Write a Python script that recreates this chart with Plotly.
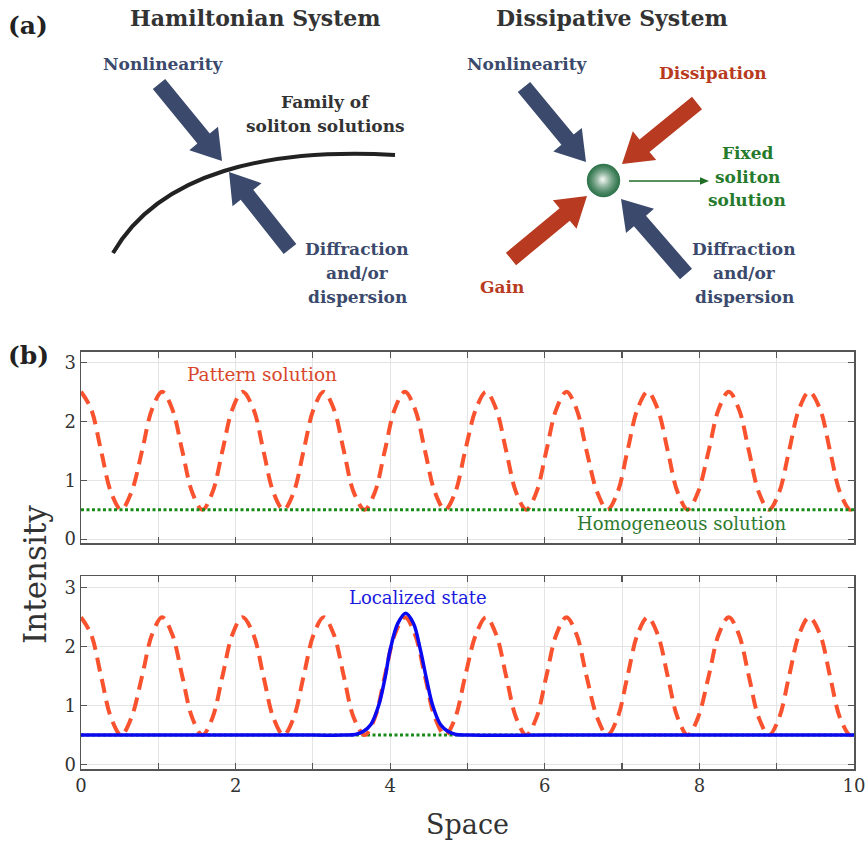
import math
import plotly.graph_objects as go

W, H = 868, 841

# ---------------- panel (b) data ----------------
pattern_x = [0.00, 0.13, 0.26, 0.39, 0.52, 0.65, 0.79, 0.92,
             1.05, 1.18, 1.31, 1.44, 1.57, 1.70, 1.83, 1.96,
             2.09, 2.23, 2.36, 2.49, 2.62, 2.75, 2.88, 3.01,
             3.14, 3.27, 3.40, 3.53, 3.67, 3.80, 3.93, 4.06,
             4.19, 4.32, 4.45, 4.58, 4.71, 4.84, 4.97, 5.11,
             5.24, 5.37, 5.50, 5.63, 5.76, 5.89, 6.02, 6.15,
             6.28, 6.41, 6.54, 6.68, 6.81, 6.94, 7.07, 7.20,
             7.33, 7.46, 7.59, 7.72, 7.85, 7.98, 8.12, 8.25,
             8.38, 8.51, 8.64, 8.77, 8.90, 9.03, 9.16, 9.29,
             9.42, 9.56, 9.69, 9.82, 9.95, 10.0]
pattern_y = [2.5, 2.21, 1.5, 0.79, 0.5, 0.79, 1.5, 2.21,
             2.5, 2.21, 1.5, 0.79, 0.5, 0.79, 1.5, 2.21,
             2.5, 2.21, 1.5, 0.79, 0.5, 0.79, 1.5, 2.21,
             2.5, 2.21, 1.5, 0.79, 0.5, 0.79, 1.5, 2.21,
             2.5, 2.21, 1.5, 0.79, 0.5, 0.79, 1.5, 2.21,
             2.5, 2.21, 1.5, 0.79, 0.5, 0.79, 1.5, 2.21,
             2.5, 2.21, 1.5, 0.79, 0.5, 0.79, 1.5, 2.21,
             2.5, 2.21, 1.5, 0.79, 0.5, 0.79, 1.5, 2.21,
             2.5, 2.21, 1.5, 0.79, 0.5, 0.79, 1.5, 2.21,
             2.5, 2.21, 1.5, 0.79, 0.5, 0.55]

homog_x = [0, 10]
homog_y = [0.5, 0.5]

local_x = [0, 1, 2, 3, 3.4, 3.55, 3.65, 3.75, 3.85, 3.93, 4.0, 4.1, 4.2,
           4.3, 4.39, 4.47, 4.55, 4.65, 4.75, 4.85, 5.0, 6, 7, 8, 9, 10]
local_y = [0.5, 0.5, 0.5, 0.5, 0.5, 0.51, 0.56, 0.68, 1.0, 1.45, 1.95, 2.4, 2.57,
           2.4, 1.95, 1.45, 1.0, 0.68, 0.56, 0.51, 0.5, 0.5, 0.5, 0.5, 0.5, 0.5]

x_tick_vals = [0, 1, 2, 3, 4, 5, 6, 7, 8, 9, 10]
x_tick_text = ["0", "", "2", "", "4", "", "6", "", "8", "", "10"]
y_tick_vals = [0, 1, 2, 3]

# ---------------- panel (a) schematic (pixel coordinates) ----------------
ham_arrows = [((159, 84), (222, 161)), ((290, 249), (229, 172))]
diss_blue_arrows = [((524, 87), (586, 162)), ((686, 274), (621, 199))]
diss_red_arrows = [((697, 103), (622, 164)), ((511, 259), (587, 196))]

BLUE = "#3b4a6c"
RED = "#b83a20"
GREEN_T = "#267a2c"
DARK = "#333333"
FONT = "DejaVu Serif"


def arrow_path(tail, tip, sw=16, hw=37, hl=29):
    dx, dy = tip[0] - tail[0], tip[1] - tail[1]
    L = math.hypot(dx, dy)
    ux, uy = dx / L, dy / L
    px, py = -uy, ux
    bx, by = tip[0] - ux * hl, tip[1] - uy * hl
    pts = [
        (tail[0] + px * sw / 2, tail[1] + py * sw / 2),
        (bx + px * sw / 2, by + py * sw / 2),
        (bx + px * hw / 2, by + py * hw / 2),
        tip,
        (bx - px * hw / 2, by - py * hw / 2),
        (bx - px * sw / 2, by - py * sw / 2),
        (tail[0] - px * sw / 2, tail[1] - py * sw / 2),
    ]
    return "M " + " L ".join(f"{x:.1f} {y:.1f}" for x, y in pts) + " Z"


fig = go.Figure()

PAT_LINE = dict(color="#f9522e", width=4, dash="14px,8px", shape="spline")
HOM_LINE = dict(color="#178a17", width=3, dash="3px,2.5px")

# upper panel
fig.add_trace(go.Scatter(x=pattern_x, y=pattern_y, mode="lines", xaxis="x", yaxis="y",
                         line=PAT_LINE, showlegend=False, hoverinfo="skip"))
fig.add_trace(go.Scatter(x=homog_x, y=homog_y, mode="lines", xaxis="x", yaxis="y",
                         line=HOM_LINE, showlegend=False, hoverinfo="skip"))
# lower panel
fig.add_trace(go.Scatter(x=homog_x, y=homog_y, mode="lines", xaxis="x2", yaxis="y2",
                         line=HOM_LINE, showlegend=False, hoverinfo="skip"))
fig.add_trace(go.Scatter(x=pattern_x, y=pattern_y, mode="lines", xaxis="x2", yaxis="y2",
                         line=PAT_LINE, showlegend=False, hoverinfo="skip"))
fig.add_trace(go.Scatter(x=local_x, y=local_y, mode="lines", xaxis="x2", yaxis="y2",
                         line=dict(color="#0a0af0", width=3.5, shape="spline"),
                         showlegend=False, hoverinfo="skip"))
# dummy for schematic axes
fig.add_trace(go.Scatter(x=[None], y=[None], xaxis="x3", yaxis="y3", showlegend=False))

xdom = [81 / W, 854 / W]
ax_common = dict(showline=True, linecolor="#555555", linewidth=1.5, mirror="ticks",
                 ticks="inside", ticklen=6, tickcolor="#555555", tickwidth=1.2,
                 showgrid=True, gridcolor="#e4e4e4", gridwidth=1, zeroline=False,
                 automargin=False,
                 tickfont=dict(family=FONT, size=18, color="#333333"))

fig.update_layout(
    template="none",
    width=W, height=H, autosize=False,
    margin=dict(l=0, r=0, t=0, b=0, pad=0),
    paper_bgcolor="white", plot_bgcolor="rgba(0,0,0,0)",
    xaxis=dict(domain=xdom, range=[0, 10], anchor="y", tickvals=x_tick_vals,
               showticklabels=False, **ax_common),
    yaxis=dict(domain=[1 - 543.3 / H, 1 - 351.7 / H], range=[-0.07, 3.18], anchor="x",
               tickvals=y_tick_vals, **ax_common),
    xaxis2=dict(domain=xdom, range=[0, 10], anchor="y2", tickvals=x_tick_vals,
                ticktext=x_tick_text, **ax_common),
    yaxis2=dict(domain=[1 - 769.3 / H, 1 - 576 / H], range=[-0.08, 3.2], anchor="x2",
                tickvals=y_tick_vals, **ax_common),
    xaxis3=dict(domain=[0, 1], range=[0, W], anchor="y3", visible=False, fixedrange=True),
    yaxis3=dict(domain=[0, 1], range=[H, 0], anchor="x3", visible=False, fixedrange=True),
)

shapes = []
for tail, tip in ham_arrows + diss_blue_arrows:
    shapes.append(dict(type="path", xref="x3", yref="y3", path=arrow_path(tail, tip),
                       fillcolor=BLUE, line=dict(width=0), layer="above"))
for tail, tip in diss_red_arrows:
    shapes.append(dict(type="path", xref="x3", yref="y3", path=arrow_path(tail, tip),
                       fillcolor=RED, line=dict(width=0), layer="above"))
# soliton family curve
shapes.append(dict(type="path", xref="x3", yref="y3",
                   path="M 113 253 C 160 172, 268 148, 395 155",
                   line=dict(color="#222222", width=4), layer="above"))
# green sphere (approximated radial gradient)
cx, cy, R = 603.5, 180.5, 16.7
n = 14
c_out = (50, 118, 78)
c_in = (232, 240, 234)
for i in range(n):
    f = i / (n - 1)
    r = R * (1 - 0.9 * f)
    ox, oy = -0.8 * f, -1.0 * f
    col = tuple(int(c_out[k] + (c_in[k] - c_out[k]) * (f ** 1.3)) for k in range(3))
    shapes.append(dict(type="circle", xref="x3", yref="y3",
                       x0=cx + ox - r, x1=cx + ox + r, y0=cy + oy - r, y1=cy + oy + r,
                       fillcolor=f"rgb{col}", line=dict(width=0), layer="above"))
# small green arrow
shapes.append(dict(type="line", xref="x3", yref="y3", x0=629, y0=181, x1=701, y1=181,
                   line=dict(color="#1f6e26", width=1.6), layer="above"))
shapes.append(dict(type="path", xref="x3", yref="y3", path="M 700 177.3 L 709 181 L 700 184.7 Z",
                   fillcolor="#1f6e26", line=dict(width=0), layer="above"))
fig.update_layout(shapes=shapes)


def txt(x, y, s, size, color, bold=False, angle=0):
    return dict(x=x, y=y, xref="x3", yref="y3", text=f"<b>{s}</b>" if bold else s,
                showarrow=False, textangle=angle, xanchor="center", yanchor="middle",
                font=dict(family=FONT, size=size, color=color))


ann = [
    txt(28, 25, "(a)", 25, "#222222", True),
    txt(28, 355, "(b)", 25, "#222222", True),
    txt(255, 18, "Hamiltonian System", 22, DARK, True),
    txt(612, 18, "Dissipative System", 22, DARK, True),
    txt(163, 64, "Nonlinearity", 17, BLUE, True),
    txt(325, 102, "Family of", 17, DARK, True),
    txt(325, 126, "soliton solutions", 17, DARK, True),
    txt(357, 249, "Diffraction", 17, BLUE, True),
    txt(357, 273, "and/or", 17, BLUE, True),
    txt(357, 297, "dispersion", 17, BLUE, True),
    txt(527, 64, "Nonlinearity", 17, BLUE, True),
    txt(713, 73, "Dissipation", 17, RED, True),
    txt(747, 153, "Fixed", 17, GREEN_T, True),
    txt(747, 177, "soliton", 17, GREEN_T, True),
    txt(747, 200, "solution", 17, GREEN_T, True),
    txt(502, 287, "Gain", 17, RED, True),
    txt(744, 249, "Diffraction", 17, BLUE, True),
    txt(744, 273, "and/or", 17, BLUE, True),
    txt(744, 297, "dispersion", 17, BLUE, True),
    txt(262, 374, "Pattern solution", 18.5, "#d8472c"),
    txt(681, 523, "Homogeneous solution", 18, "#2e7a30"),
    txt(418, 597, "Localized state", 18, "#1a1ae0"),
    txt(35, 575, "Intensity", 31, "#333333", angle=-90),
    txt(467, 824, "Space", 27, "#333333"),
]
fig.update_layout(annotations=ann)

post = ("document.documentElement.style.margin='0';"
        "document.body.style.margin='0';"
        "document.body.style.padding='0';"
        "document.body.style.overflow='hidden';"
        "document.documentElement.style.overflow='hidden';")

fig.write_html("out.html", post_script=post,
               config={"displayModeBar": False, "staticPlot": True})
